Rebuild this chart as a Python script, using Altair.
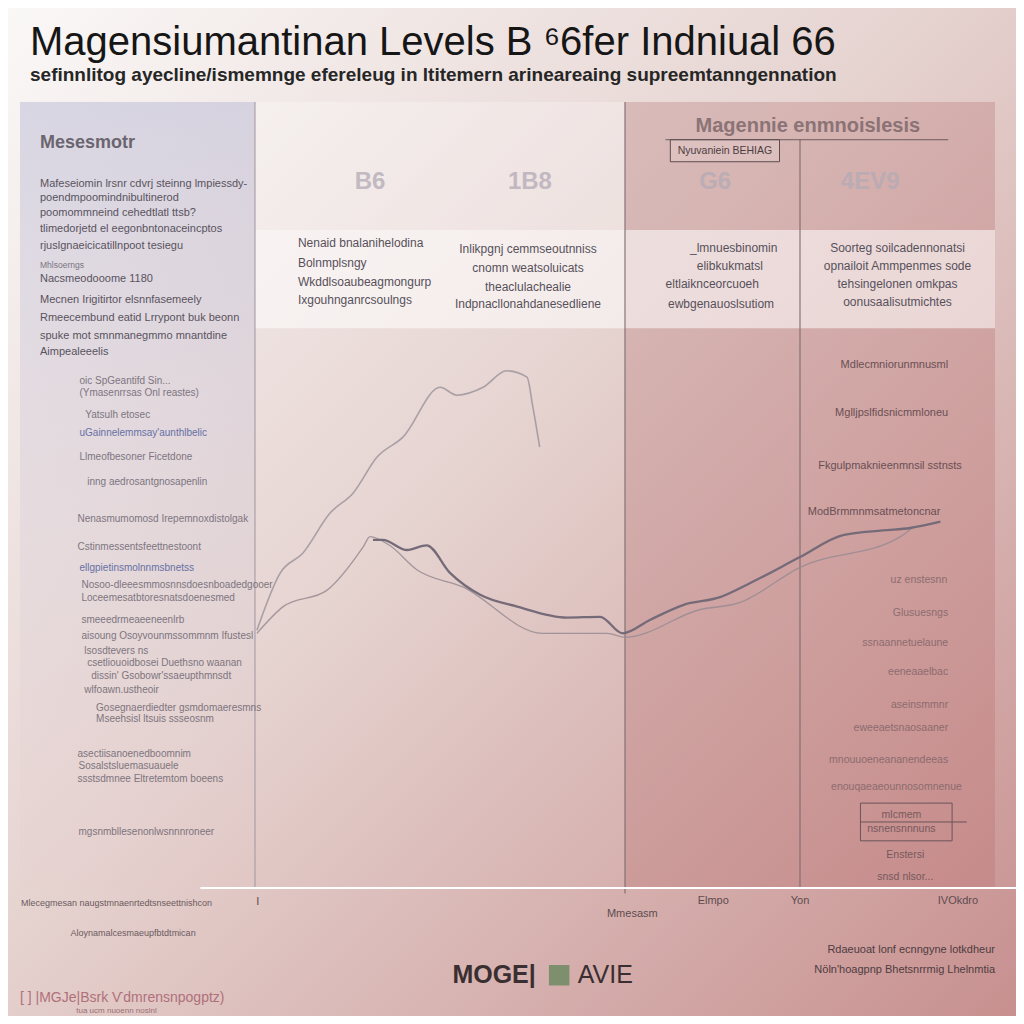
import altair as alt
import pandas as pd

NARROW = "'Liberation Sans Narrow', 'Liberation Sans', sans-serif"
SANS = "'Liberation Sans', sans-serif"

# ---------------- series (x: 0-100 timeline, y: 0-100 level) ----------------
a_x = [24.3, 26.7, 29.0, 31.8, 34.2, 36.6, 39.3, 43.1, 44.8, 47.5, 49.9, 52.0, 52.6, 53.3]
a_y = [32.8, 40.1, 42.6, 47.7, 50.3, 54.8, 57.4, 63.7, 62.7, 63.7, 65.8, 65.0, 61.2, 56.1]
b_x = [36.2, 37.2, 39.7, 41.7, 44.1, 47.2, 51.0, 56.1, 59.5, 61.8, 64.6, 68.0, 71.8, 74.9, 80.0, 84.4, 88.5, 91.3, 94.4]
b_y = [44.3, 44.3, 43.0, 43.6, 40.1, 37.3, 35.8, 34.4, 34.5, 32.4, 34.1, 36.0, 37.0, 38.8, 42.1, 44.9, 45.5, 45.8, 46.6]
c_x = [24.3, 27.0, 31.5, 35.2, 35.9, 37.9, 40.7, 45.4, 53.6, 60.2, 62.1, 69.7, 73.8, 80.0, 90.3, 91.6]
c_y = [32.4, 35.8, 37.9, 43.4, 44.7, 43.6, 40.5, 38.3, 32.4, 32.4, 31.9, 35.4, 36.3, 40.8, 44.7, 45.9]

# ---------------- panel layout (data units) ----------------
divider_x = [24.1, 62.05, 80.0]
divider_top = [100.0, 100.0, 95.2]
divider_bottom = [0.0, -0.7, 0.0]
band_y = [71.2, 83.7]

# ---------------- column headers ----------------
col_labels = ["B6", "1B8", "G6", "4EV9"]
col_x = [35.9, 52.3, 71.3, 87.2]
col_y = [89.8, 89.8, 89.8, 89.8]

# ---------------- band text ----------------
band1_text = ["Nenaid bnalanihelodina", "Bolnmplsngy", "Wkddlsoaubeagmongurp", "Ixgouhnganrcsoulngs"]
band1_x = [28.5, 28.5, 28.5, 28.5]
band1_y = [82.1, 79.5, 77.1, 74.8]
band2_text = ["Inlikpgnj cemmseoutnniss", "cnomn weatsoluicats", "theaclulachealie", "Indpnacllonahdanesedliene",
              "_lmnuesbinomin", "elibkukmatsl", "eltlaiknceorcuoeh", "ewbgenauoslsutiom",
              "Soorteg soilcadennonatsi", "opnailoit Ammpenmes sode", "tehsingelonen omkpas", "oonusaalisutmichtes"]
band2_x = [52.1, 52.1, 52.1, 52.1, 73.2, 72.8, 71.0, 71.9, 90.0, 90.0, 90.0, 90.0]
band2_y = [81.3, 78.9, 76.5, 74.3, 81.4, 79.1, 76.9, 74.3, 81.4, 79.1, 76.9, 74.6]

# ---------------- left panel ----------------
left_head = ["Mesesmotr"]
left_head_x = [2.05]
left_head_y = [94.8]
left_par_text = ["Mafeseiomin lrsnr cdvrj steinng lmpiessdy-", "poendmpoomindnibultinerod",
                 "poomommneind cehedtlatl ttsb?", "tlimedorjetd el eegonbntonaceincptos",
                 "rjuslgnaeicicatillnpoot tesiegu",
                 "Nacsmeodooome 1180",
                 "Mecnen Irigitirtor elsnnfasemeely", "Rmeecembund eatid Lrrypont buk beonn",
                 "spuke mot smnmanegmmo mnantdine", "Aimpealeeelis"]
left_par_x = [2.05] * 10
left_par_y = [89.6, 87.8, 85.9, 83.8, 81.7, 77.5, 74.8, 72.5, 70.2, 68.2]
left_small = ["Mhlsoerngs"]
left_small_x = [2.05]
left_small_y = [79.3]

left_list_text = ["oic SpGeantifd Sin...", "(Ymasenrrsas Onl reastes)", "Yatsulh etosec",
                  "Llmeofbesoner Ficetdone", "inng aedrosantgnosapenlin",
                  "Nenasmumomosd Irepemnoxdistolgak", "Cstinmessentsfeettnestoont",
                  "Nosoo-dleeesmmosnnsdoesnboadedgooer", "Loceemesatbtoresnatsdoenesmed",
                  "smeeedrmeaeeneenlrb", "aisoung Osoyvounmssommnm Ifustesl", "lsosdtevers ns",
                  "csetliouoidbosei Duethsno waanan", "dissin' Gsobowr'ssaeupthmnsdt",
                  "wlfoawn.ustheoir", "Gosegnaerdiedter gsmdomaeresmns", "Mseehsisl ltsuis ssseosnm",
                  "asectiisanoenedboomnim", "Sosalstsluemasuauele", "ssstsdmnee Eltretemtom boeens",
                  "mgsnmbllesenonlwsnnnroneer"]
left_list_x = [6.1, 6.1, 6.7, 6.1, 6.9, 5.9, 5.9, 6.3, 6.3, 6.3, 6.3, 6.6, 6.9, 7.3, 6.6,
               7.8, 7.8, 5.9, 6.0, 5.9, 6.0]
left_list_y = [64.5, 63.0, 60.2, 54.8, 51.7, 46.9, 43.4, 38.5, 36.9, 34.1, 32.1, 30.2, 28.6,
               27.0, 25.2, 22.9, 21.5, 17.0, 15.5, 13.9, 7.1]
left_blue = ["uGainnelemmsay'aunthlbelic", "ellgpietinsmolnnmsbnetss"]
left_blue_x = [6.1, 6.1]
left_blue_y = [57.9, 40.7]

# ---------------- right panel ----------------
right_head = ["Magennie enmnoislesis"]
right_head_x = [80.8]
right_head_y = [96.9]
right_box_label = ["Nyuvaniein BEHIAG"]
right_box_x = [72.3]
right_box_y = [93.8]
right_text = ["Mdlecmniorunmnusml", "Mglljpslfidsnicmmloneu", "Fkgulpmaknieenmnsil sstnsts",
              "ModBrmmnmsatmetoncnar"]
right_text_x = [95.2, 95.2, 96.6, 94.4]
right_text_y = [66.5, 60.4, 53.7, 47.8]
right_faint = ["uz enstesnn", "Glusuesngs", "ssnaannetuelaune", "eeneaaelbac", "aseinsmmnr",
               "eweeaetsnaosaaner", "mnouuoeneananendeeas", "enouqaeaeounnosomnenue"]
right_faint_x = [95.1, 95.2, 95.2, 95.2, 95.2, 95.2, 95.2, 96.6]
right_faint_y = [39.2, 35.0, 31.2, 27.5, 23.3, 20.4, 16.3, 12.8]
right_tail = ["mlcmem", "nsnensnnnuns", "Enstersi", "snsd nlsor..."]
right_tail_x = [90.4, 90.4, 90.8, 90.8]
right_tail_y = [9.3, 7.5, 4.2, 1.4]

# ---------------- bottom axis / footer ----------------
axis_labels = ["I", "Mmesasm", "Elmpo", "Yon", "IVOkdro"]
axis_x = [24.4, 62.8, 71.1, 80.0, 96.2]
axis_y = [-1.8, -3.3, -1.7, -1.7, -1.7]
foot_left = ["Mlecegmesan naugstmnaenrtedtsnseettnishcon", "Aloynamalcesmaeupfbtdtmican"]
foot_left_x = [9.9, 11.6]
foot_left_y = [-1.9, -5.7]
foot_right = ["Rdaeuoat lonf ecnngyne lotkdheur", "Nöln'hoagpnp Bhetsnrrmig Lhelnmtia"]
foot_right_x = [100.0, 100.0]
foot_right_y = [-7.9, -10.4]
brand_left = ["MOGE|"]
brand_right = ["AVIE"]
brand_x = [52.9, 57.2]
brand_y = [-11.1, -11.1]
credit_main = ["[ ] |MGJe|Bsrk Ѵdmrensnpogptz)"]
credit_main_x = [0.0]
credit_main_y = [-14.0]
credit_sub = ["tua ucm nuoenn noslnl"]
credit_sub_x = [9.9]
credit_sub_y = [-15.7]

# ---------------- helpers ----------------
X = dict(scale=alt.Scale(domain=[0, 100], nice=False, zero=False), axis=None)
Y = dict(scale=alt.Scale(domain=[0, 100], nice=False, zero=False), axis=None)


def df_xy(xs, ys, texts=None):
    d = {"x": xs, "y": ys}
    if texts is not None:
        d["t"] = texts
    return pd.DataFrame(d)


def text_layer(texts, xs, ys, **kw):
    base = dict(baseline="middle", font=SANS)
    base.update(kw)
    return alt.Chart(df_xy(xs, ys, texts)).mark_text(**base).encode(
        x=alt.X("x:Q", **X), y=alt.Y("y:Q", **Y), text="t:N")


def line_layer(xs, ys, **kw):
    return alt.Chart(df_xy(xs, ys)).mark_line(**kw).encode(
        x=alt.X("x:Q", **X), y=alt.Y("y:Q", **Y))


def rect_layer(x1, x2, y1, y2, **kw):
    d = pd.DataFrame({"x": [x1], "x2": [x2], "y": [y1], "y2": [y2]})
    return alt.Chart(d).mark_rect(**kw).encode(
        x=alt.X("x:Q", **X), x2="x2:Q", y=alt.Y("y:Q", **Y), y2="y2:Q")


W, H = 975, 786

# page background gradient
bg = alt.Chart(pd.DataFrame({"k": [0]})).mark_rect(
    fill=alt.Gradient(gradient="linear", x1=0, y1=0, x2=1, y2=1,
                      stops=[alt.GradientStop(offset=0, color="#faf8f7"),
                             alt.GradientStop(offset=0.45, color="#e6d4d1"),
                             alt.GradientStop(offset=1, color="#c7908f")])
).encode(x=alt.value(-12), x2=alt.value(W + 21), y=alt.value(-94), y2=alt.value(H + 128))

left_panel = rect_layer(0, divider_x[0], 0, 100, fill=alt.Gradient(
    gradient="linear", x1=0, y1=0, x2=0, y2=1,
    stops=[alt.GradientStop(offset=0, color="rgba(190,190,215,0.55)"),
           alt.GradientStop(offset=0.6, color="rgba(210,200,215,0.25)"),
           alt.GradientStop(offset=1, color="rgba(230,200,200,0.1)")]))
mid_top = rect_layer(divider_x[0], divider_x[1], band_y[1], 100, fill="#ffffff", opacity=0.25)
right_panel = rect_layer(divider_x[1], 100, 0, 100, fill=alt.Gradient(
    gradient="linear", x1=0, y1=0, x2=1, y2=1,
    stops=[alt.GradientStop(offset=0, color="rgba(175,110,110,0.30)"),
           alt.GradientStop(offset=1, color="rgba(185,105,105,0.30)")]))
band = rect_layer(divider_x[0], 100, band_y[0], band_y[1], fill="#ffffff", opacity=0.55)

dividers = alt.Chart(pd.DataFrame({"x": divider_x, "y": divider_top, "y2": divider_bottom,
                                   "c": ["a", "b", "b"]})).mark_rule(strokeWidth=1.1).encode(
    x=alt.X("x:Q", **X), y=alt.Y("y:Q", **Y), y2="y2:Q",
    color=alt.Color("c:N", scale=alt.Scale(domain=["a", "b"], range=["#a59aa3", "#7f6b70"]), legend=None))

head_rule = alt.Chart(pd.DataFrame({"x": [66.2], "x2": [95.2], "y": [95.2]})).mark_rule(
    color="#6f5c60", strokeWidth=1).encode(x=alt.X("x:Q", **X), x2="x2:Q", y=alt.Y("y:Q", **Y))
head_box = rect_layer(66.7, 77.9, 92.4, 95.2, fill="#ffffff", fillOpacity=0.15,
                      stroke="#5e4c50", strokeWidth=1)
tail_box = rect_layer(86.2, 95.6, 6.0, 10.8, fill="#ffffff", fillOpacity=0.0,
                      stroke="#6a5458", strokeWidth=1)
tail_rule = alt.Chart(pd.DataFrame({"x": [86.2], "x2": [97.1], "y": [8.4]})).mark_rule(
    color="#6a5458", strokeWidth=1).encode(x=alt.X("x:Q", **X), x2="x2:Q", y=alt.Y("y:Q", **Y))
base_rule = alt.Chart(pd.DataFrame({"x": [18.5], "x2": [102.6], "y": [0.0]})).mark_rule(
    color="#ffffff", strokeWidth=2.2).encode(x=alt.X("x:Q", **X), x2="x2:Q", y=alt.Y("y:Q", **Y))

line_a = line_layer(a_x, a_y, color="#9e959c", strokeWidth=1.6, opacity=0.85, interpolate="monotone")
line_c = line_layer(c_x, c_y, color="#978b92", strokeWidth=1.3, opacity=0.85, interpolate="monotone")
line_b = line_layer(b_x, b_y, color="#756b78", strokeWidth=2.3, interpolate="monotone")

brand_icon = alt.Chart(pd.DataFrame({"x": [55.3], "y": [-11.1]})).mark_square(
    size=420, color="#6f8a63", opacity=0.85).encode(x=alt.X("x:Q", **X), y=alt.Y("y:Q", **Y))

layers = [
    bg, left_panel, mid_top, right_panel, band, dividers, head_rule, head_box, tail_box, tail_rule,
    base_rule, line_a, line_c, line_b,
    text_layer(col_labels, col_x, col_y, fontSize=24, fontWeight="bold", color="#b3aab6", opacity=0.75),
    text_layer(band1_text, band1_x, band1_y, fontSize=12, color="#57505a", align="left"),
    text_layer(band2_text, band2_x, band2_y, fontSize=12, color="#57505a", align="center"),
    text_layer(left_head, left_head_x, left_head_y, fontSize=18, fontWeight="bold", color="#6b6570",
               align="left"),
    text_layer(left_par_text, left_par_x, left_par_y, fontSize=11, color="#59535e", align="left"),
    text_layer(left_small, left_small_x, left_small_y, fontSize=8.5, color="#7a7480", align="left"),
    text_layer(left_list_text, left_list_x, left_list_y, fontSize=10, color="#6c6570", align="left",
               opacity=0.85),
    text_layer(left_blue, left_blue_x, left_blue_y, fontSize=10, color="#5866a0", align="left", opacity=0.9),
    text_layer(right_head, right_head_x, right_head_y, fontSize=20, fontWeight="bold", color="#7e686c",
               opacity=0.85),
    text_layer(right_box_label, right_box_x, right_box_y, fontSize=10.5, color="#4d3c40"),
    text_layer(right_text, right_text_x, right_text_y, fontSize=11, color="#6a4f55", align="right"),
    text_layer(right_faint, right_faint_x, right_faint_y, fontSize=10.5, color="#7d6266", align="right",
               opacity=0.8),
    text_layer(right_tail, right_tail_x, right_tail_y, fontSize=10.5, color="#6a5055", opacity=0.85),
    text_layer(axis_labels, axis_x, axis_y, fontSize=11, color="#5e4c50"),
    text_layer(foot_left, foot_left_x, foot_left_y, fontSize=9, color="#6b5a5e"),
    text_layer(foot_right, foot_right_x, foot_right_y, fontSize=11, color="#4e3c40", align="right"),
    text_layer(brand_left, brand_x[:1], brand_y[:1], fontSize=25, fontWeight="bold", color="#3a2e30",
               align="right"),
    brand_icon,
    text_layer(brand_right, brand_x[1:], brand_y[1:], fontSize=25, color="#3a2e30", align="left"),
    text_layer(credit_main, credit_main_x, credit_main_y, fontSize=14, color="#b0707a", align="left"),
    text_layer(credit_sub, credit_sub_x, credit_sub_y, fontSize=8, color="#9a7075"),
]

chart = alt.layer(*layers).properties(
    width=W, height=H,
    autosize=alt.AutoSizeParams(type="none"),
    padding={"left": 12, "top": 94, "right": 21, "bottom": 128},
    background="#f3ebea",
    title=alt.TitleParams(
        text="Magensiumantinan Levels B ⁶6fer Indniual  66",
        subtitle="sefinnlitog ayecline/ismemnge efereleug in ltitemern arineareaing supreemtanngennation",
        anchor="start", frame="group", dx=10, dy=77, offset=0,
        font=SANS, fontSize=40, fontWeight="normal", color="#161616",
        subtitleFont=SANS, subtitleFontSize=19, subtitleFontWeight="bold", subtitleColor="#262626",
        subtitlePadding=3),
).configure_view(strokeWidth=0)

chart.save("out.html", embed_options={"renderer": "svg", "actions": False})
